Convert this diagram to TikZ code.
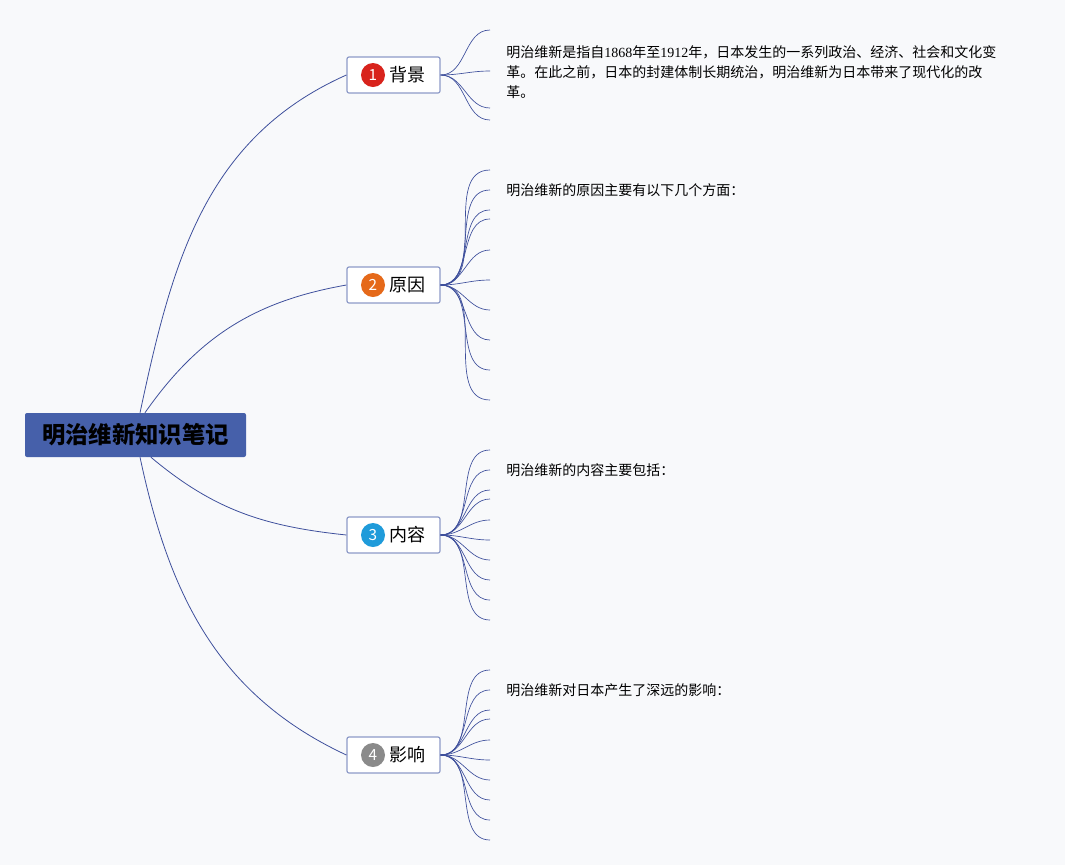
\documentclass[tikz,border=0pt]{standalone}
\usepackage{fontspec}
\setmainfont{Noto Sans CJK SC}
\newfontfamily\serifnum{Liberation Serif}
\usetikzlibrary{positioning}

\definecolor{pagebg}{HTML}{F8F9FB}
\definecolor{rootblue}{HTML}{4660AA}
\definecolor{linkblue}{HTML}{3E4F9C}
\definecolor{boxedge}{HTML}{8E9BC8}
\definecolor{badgered}{HTML}{D8231C}
\definecolor{badgeorange}{HTML}{E5691A}
\definecolor{badgeblue}{HTML}{1F9BDA}
\definecolor{badgegray}{HTML}{8A8A8A}

\newcommand{\yr}[1]{{\serifnum #1}}

\begin{document}
\begin{tikzpicture}[x=0.75pt,y=0.75pt,
    root/.style={fill=rootblue,rounded corners=1.5pt,minimum width=165.75pt,
      minimum height=33pt,inner sep=0pt,font=\fontsize{17.5}{20}\selectfont\bfseries},
    branch/.style={draw=boxedge,fill=white,line width=0.9pt,rounded corners=1.5pt,
      minimum width=69.75pt,minimum height=27pt,inner sep=0pt},
    badge/.style={circle,inner sep=0pt,minimum size=18pt,text=white,
      font=\fontsize{11.5}{12}\selectfont},
    blabel/.style={inner sep=0pt,font=\fontsize{13.5}{15}\selectfont},
    note/.style={anchor=west,inner sep=0pt,align=left,
      font=\fontsize{10.5}{15}\selectfont},
    link/.style={draw=linkblue,line width=0.6pt},
    fan/.style={draw=linkblue,line width=0.5pt}]
  % page
  \fill[pagebg] (0,0) rectangle (1065,-865);

  % central topic
  \node[root] (root) at (135.5,-435) {明治维新知识笔记};

  % main branches
  \foreach \i/\y/\col/\txt in {1/75/badgered/背景,2/285/badgeorange/原因,
      3/535/badgeblue/内容,4/755/badgegray/影响} {
    \node[branch] (b\i) at (393.5,-\y) {};
    \node[badge,fill=\col] (c\i) at (373,-\y) {\i};
    \node[blabel] (l\i) at (407,-\y) {\txt};
  }

  % links from the centre
  \draw[link] ([xshift=3.4pt]root.north) to[out=78,in=204] (b1.west);
  \draw[link] ([xshift=7.1pt]root.north) to[out=55,in=190] (b2.west);
  \draw[link] ([xshift=11.6pt]root.south) to[out=-40,in=174] (b3.west);
  \draw[link] ([xshift=3.4pt]root.south) to[out=-78,in=155] (b4.west);

  % sub-topic fans
  \foreach \y [count=\k] in {30,71,108,120} {
    \coordinate (e1-\k) at (490,-\y);
    \draw[fan] (b1.east) to[out=0,in=180] (e1-\k);
  }
  \foreach \y [count=\k] in {170,190,210,219,250,280,310,340,370,400} {
    \coordinate (e2-\k) at (490,-\y);
    \draw[fan] (b2.east) to[out=0,in=180] (e2-\k);
  }
  \foreach \y [count=\k] in {450,470,490,499,520,540,560,580,600,620} {
    \coordinate (e3-\k) at (490,-\y);
    \draw[fan] (b3.east) to[out=0,in=180] (e3-\k);
  }
  \foreach \y [count=\k] in {670,690,710,719,740,760,780,800,820,840} {
    \coordinate (e4-\k) at (490,-\y);
    \draw[fan] (b4.east) to[out=0,in=180] (e4-\k);
  }

  % notes
  \node[note] (n1) at (506,-72) {明治维新是指自\yr{1868}年至\yr{1912}年，日本发生的一系列政治、经济、社会和文化变\\革。在此之前，日本的封建体制长期统治，明治维新为日本带来了现代化的改\\革。};
  \node[note] (n2) at (506,-190) {明治维新的原因主要有以下几个方面：};
  \node[note] (n3) at (506,-470) {明治维新的内容主要包括：};
  \node[note] (n4) at (506,-690) {明治维新对日本产生了深远的影响：};
\end{tikzpicture}
\end{document}
